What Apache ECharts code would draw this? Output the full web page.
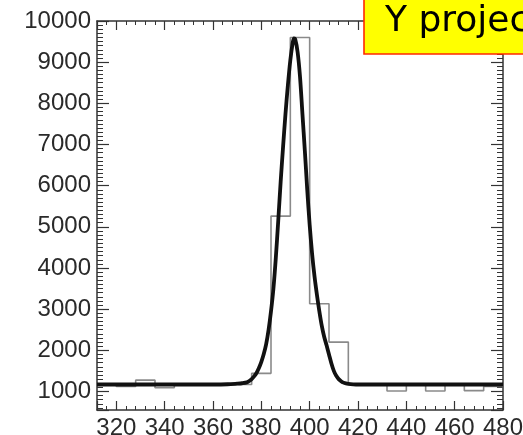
<!DOCTYPE html>
<html>
<head>
<meta charset="utf-8">
<script src="https://cdn.jsdelivr.net/npm/echarts@6/dist/echarts.min.js"></script>
<style>
html,body{margin:0;padding:0;background:#fff;}
#c{width:523px;height:435px;}
</style>
</head>
<body>
<div id="c"></div>
<script>
// Histogram bins (edges) and counts
const binEdges = [312, 320, 328, 336, 344, 352, 360, 368, 376, 384, 392, 400, 408, 416, 424, 432, 440, 448, 456, 464, 472, 480];
const histCounts = [1170, 1120, 1275, 1090, 1170, 1170, 1170, 1170, 1440, 5260, 9600, 3130, 2200, 1170, 1170, 1010, 1170, 1010, 1170, 1020, 1120];
// Fitted curve
const fitX = [312, 340, 360, 366, 370, 372, 374, 375, 376, 377, 378, 379, 380, 381, 382, 383, 384, 385, 386, 387, 388, 389, 390, 391, 392, 393, 393.5, 394, 395, 396, 397, 398, 399, 400, 401, 402, 403, 404, 405, 406, 407, 408, 409, 410, 411, 412, 413, 414, 415, 416, 418, 420, 440, 480];
const fitY = [1170, 1170, 1170, 1175, 1190, 1200, 1220, 1255, 1300, 1365, 1450, 1570, 1720, 1910, 2150, 2500, 2950, 3500, 4250, 5150, 6100, 6950, 7750, 8450, 9050, 9480, 9580, 9560, 9250, 8650, 7750, 6850, 5900, 5050, 4350, 3800, 3350, 2950, 2600, 2330, 2120, 1900, 1680, 1500, 1380, 1300, 1250, 1215, 1195, 1185, 1175, 1170, 1170, 1170];
const titleText = 'Y projection';
const xRange = [312, 480];
const yRange = [550, 10000];

const histData = binEdges.map((e, i) => [e, i < histCounts.length ? histCounts[i] : histCounts[histCounts.length - 1]]);
const fitData = fitX.map((x, i) => [x, fitY[i]]);

const axisColor = '#333';
const labelFont = {color: '#2a2a2a', fontFamily: '"Liberation Sans", Arial, sans-serif'};

function xAx(pos, showLabel) {
  return {
    type: 'value', position: pos, min: xRange[0], max: xRange[1], splitNumber: 8,
    axisLine: {show: true, onZero: false, lineStyle: {color: axisColor, width: 1.5}},
    axisTick: {show: true, inside: true, length: 9, lineStyle: {color: axisColor, width: 1.2}},
    minorTick: {show: true, splitNumber: 5, length: 4, lineStyle: {color: axisColor, width: 1}},
    splitLine: {show: false},
    axisLabel: {show: showLabel, margin: 6, fontSize: 24, ...labelFont,
      formatter: v => (v % 20 === 0 ? String(v) : '')}
  };
}
function yAx(pos, showLabel) {
  return {
    type: 'value', position: pos, min: yRange[0], max: yRange[1], splitNumber: 10,
    axisLine: {show: true, onZero: false, lineStyle: {color: axisColor, width: 1.5}},
    axisTick: {show: true, inside: true, length: 12, lineStyle: {color: axisColor, width: 1.2}},
    minorTick: {show: true, splitNumber: 10, length: 6, lineStyle: {color: axisColor, width: 1}},
    splitLine: {show: false},
    axisLabel: {show: showLabel, margin: 6, fontSize: 24, ...labelFont,
      formatter: v => (v % 1000 === 0 ? String(v) : '')}
  };
}

const chart = echarts.init(document.getElementById('c'), null, {renderer: 'canvas'});
chart.setOption({
  backgroundColor: '#fff',
  animation: false,
  grid: {left: 97, right: 20, top: 21, bottom: 25, containLabel: false, outerBoundsMode: 'none'},
  xAxis: [xAx('bottom', true), xAx('top', false)],
  yAxis: [yAx('left', true), yAx('right', false)],
  series: [
    {
      type: 'line', xAxisIndex: 0, yAxisIndex: 0, data: histData, step: 'end',
      showSymbol: false, symbol: 'none',
      lineStyle: {color: '#8a8a8a', width: 1.6}, z: 2
    },
    {
      type: 'line', xAxisIndex: 0, yAxisIndex: 0, data: fitData, smooth: 0.3,
      showSymbol: false, symbol: 'none',
      lineStyle: {color: '#111', width: 3.8, join: 'round'}, z: 3
    }
  ],
  graphic: [
    {
      type: 'group', z: 100,
      children: [
        {type: 'rect', shape: {x: 364, y: -20, width: 400, height: 74},
          style: {fill: '#ffff00', stroke: '#ff2a00', lineWidth: 1.6}, z: 100},
        {type: 'text', x: 385, y: 22, z: 101,
          style: {text: titleText, font: '36px "DejaVu Sans", Verdana, sans-serif', fill: '#000',
            verticalAlign: 'middle', align: 'left'}}
      ]
    }
  ]
});
</script>
</body>
</html>
